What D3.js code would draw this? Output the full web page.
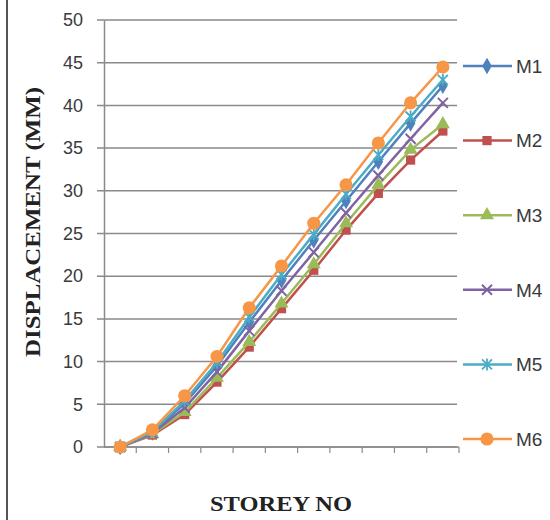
<!DOCTYPE html>
<html><head><meta charset="utf-8">
<script src="https://cdn.jsdelivr.net/npm/d3@7"></script>
<style>body{margin:0;background:#fff}</style>
</head><body>
<svg id="c" width="550" height="520"></svg>
<script>
const storeys = [1,2,3,4,5,6,7,8,9,10,11];
const seriesNames = ["M1","M2","M3","M4","M5","M6"];
const m1 = [0,1.7,5.1,9.5,14.6,19.5,24.2,28.8,33.4,37.9,42.3];
const m2 = [0,1.4,3.8,7.6,11.7,16.2,20.7,25.4,29.7,33.6,37.0];
const m3 = [0,1.5,4.1,8.1,12.3,16.8,21.4,26.2,30.7,34.8,37.8];
const m4 = [0,1.6,4.6,8.8,13.6,18.3,22.8,27.4,31.8,36.1,40.3];
const m5 = [0,1.8,5.4,9.9,15.2,20.2,24.9,29.6,34.2,38.7,43.0];
const m6 = [0,2.0,6.0,10.6,16.3,21.2,26.2,30.7,35.6,40.3,44.5];
const yTicks = [0,5,10,15,20,25,30,35,40,45,50];
const colors = ["#4F81BD","#C0504D","#9BBB59","#8064A2","#4BACC6","#F79646"];
const shapes = ["diamond","square","triangle","x","star","circle"];
const values = [m1,m2,m3,m4,m5,m6];

const svg = d3.select("#c");
const pL = 104, pR = 459, pT = 20, pB = 447;
const x = d3.scaleBand().domain(storeys).range([pL, pR]);
const y = d3.scaleLinear().domain([0,50]).range([pB, pT]);

svg.append("line").attr("x1",7).attr("x2",7).attr("y1",0).attr("y2",520)
  .attr("stroke","#555").attr("stroke-width",2);

svg.append("g").selectAll("line").data(yTicks).join("line")
  .attr("x1", pL-7).attr("x2", 457)
  .attr("y1", d=>y(d)).attr("y2", d=>y(d))
  .attr("stroke","#8a8a8a").attr("stroke-width",1.5);

const yAxis = svg.append("g").attr("transform",`translate(${pL},0)`)
  .call(d3.axisLeft(y).tickValues(yTicks).tickSize(0).tickPadding(21));
yAxis.select(".domain").attr("stroke","#8a8a8a").attr("stroke-width",1.5);
yAxis.selectAll("text").attr("font-family","'Liberation Sans', Arial, sans-serif")
  .attr("font-size",18).attr("fill","#3a3a3a");

svg.append("line").attr("x1",pL).attr("x2",pR).attr("y1",pB).attr("y2",pB)
  .attr("stroke","#8a8a8a").attr("stroke-width",1.5);
const bounds = storeys.map(d=>x(d)).concat([pR]);
svg.append("g").selectAll("line").data(bounds.slice(1)).join("line")
  .attr("x1",d=>d).attr("x2",d=>d).attr("y1",pB).attr("y2",pB+6)
  .attr("stroke","#8a8a8a").attr("stroke-width",1.2);

const sym = {
  diamond: d3.symbol().type(d3.symbolDiamond).size(80),
  square: d3.symbol().type(d3.symbolSquare).size(85),
  triangle: d3.symbol().type(d3.symbolTriangle).size(85),
  circle: d3.symbol().type(d3.symbolCircle).size(135)
};
function drawMarker(g, shape, color){
  if(shape==="x"){
    g.append("path").attr("d","M-5,-5L5,5M-5,5L5,-5").attr("stroke",color).attr("stroke-width",2);
  } else if(shape==="star"){
    g.append("path").attr("d","M-5,-5L5,5M-5,5L5,-5M0,-6L0,6").attr("stroke",color).attr("stroke-width",1.8);
  } else {
    g.append("path").attr("d",sym[shape]()).attr("fill",color);
  }
}

const line = d3.line().x((d,i)=>x(storeys[i])+x.bandwidth()/2).y(d=>y(d));
values.forEach((vals,k)=>{
  const g = svg.append("g");
  g.append("path").datum(vals).attr("d",line).attr("fill","none")
    .attr("stroke",colors[k]).attr("stroke-width",2.5);
  vals.forEach((v,i)=>{
    const mg = g.append("g").attr("transform",`translate(${x(storeys[i])+x.bandwidth()/2},${y(v)})`);
    drawMarker(mg, shapes[k], colors[k]);
  });
});

const legY = d3.scalePoint().domain(seriesNames).range([66,439]);
seriesNames.forEach((n,k)=>{
  const ly = legY(n);
  svg.append("line").attr("x1",463).attr("x2",512).attr("y1",ly).attr("y2",ly)
    .attr("stroke",colors[k]).attr("stroke-width",2.5);
  const mg = svg.append("g").attr("transform",`translate(487,${ly})`);
  drawMarker(mg, shapes[k], colors[k]);
  svg.append("text").attr("x",516).attr("y",ly).attr("dy","0.36em")
    .attr("font-family","'Liberation Sans', Arial, sans-serif").attr("font-size",19)
    .attr("fill","#3a3a3a").text(n);
});

svg.append("text").attr("transform","translate(40,222) rotate(-90)")
  .attr("text-anchor","middle").attr("font-family","'Liberation Serif', 'Times New Roman', serif")
  .attr("font-size",20).attr("font-weight","bold").attr("fill","#222")
  .attr("textLength",270).attr("lengthAdjust","spacingAndGlyphs")
  .text("DISPLACEMENT (MM)");
svg.append("text").attr("x",281).attr("y",511)
  .attr("text-anchor","middle").attr("font-family","'Liberation Serif', 'Times New Roman', serif")
  .attr("font-size",20).attr("font-weight","bold").attr("fill","#222")
  .attr("textLength",142).attr("lengthAdjust","spacingAndGlyphs")
  .text("STOREY NO");
</script>
</body></html>
